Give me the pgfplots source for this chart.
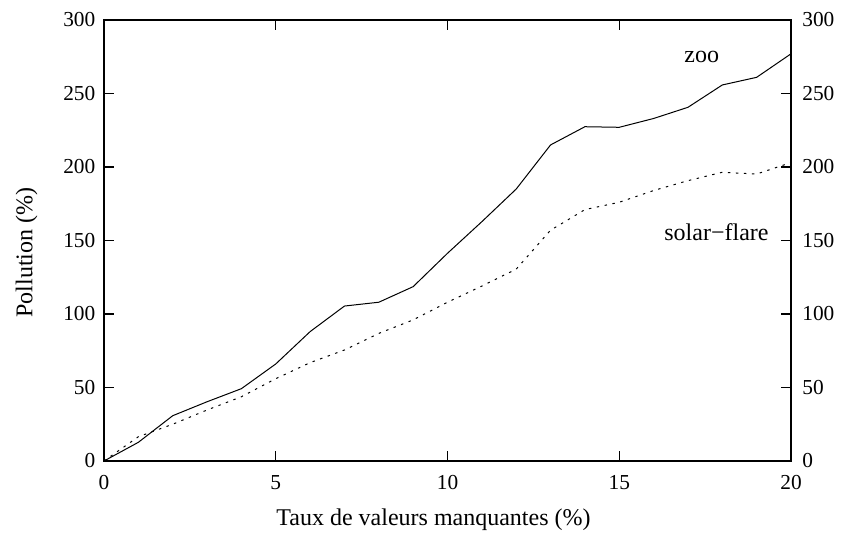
\documentclass[border=0pt]{standalone}
\usepackage{fontspec}
\setmainfont{Liberation Serif}
\usepackage{pgfplots}
\pgfplotsset{compat=1.18}
\begin{document}
\begin{tikzpicture}
\pgfplotsset{
  common/.style={
    scale only axis, width=515.25pt, height=330.75pt,
    xmin=0, xmax=20, ymin=0, ymax=300,
    xtick={0,5,10,15,20}, ytick={0,50,100,150,200,250,300},
    tick align=inside, major tick length=7.5pt,
    /pgf/number format/assume math mode=true,
    tick style={black, line width=0.8pt},
    axis line style={line width=1pt},
    ticklabel style={font=\fontsize{16}{19}\selectfont},
  }
}
\begin{axis}[common,
  xticklabel style={yshift=-7pt},
  yticklabel style={xshift=-3pt},
  every axis y label/.style={at={(axis description cs:0,0.5)}, xshift=-58pt, yshift=-9pt, rotate=90, anchor=center},
  every axis x label/.style={at={(axis description cs:0.5,0)}, anchor=center, xshift=-10.5pt, yshift=-44pt},
  xlabel={Taux de valeurs manquantes (\%)},
  ylabel={Pollution (\%)},
  label style={font=\fontsize{18}{21}\selectfont},
]
\addplot[black, line width=0.75pt] coordinates {
(0,0) (1,12.7) (2,30.8) (3,40.3) (4,49.2) (5,66) (6,88) (7,105.4) (8,108) (9,118.6)
(10,141.3) (11,162.8) (12,185) (13,215) (14,227.4) (15,227) (16,233) (17,240.6)
(18,255.8) (19,261) (20,277)};
\addplot[black, line width=0.75pt, dash pattern=on 1.8pt off 4.2pt] coordinates {
(0,0) (1,16.5) (2,25) (3,34.7) (4,43.7) (5,56) (6,66.9) (7,75.5) (8,86.8) (9,96)
(10,108) (11,119) (12,130.5) (13,157) (14,171) (15,176) (16,184) (17,190.7)
(18,196.4) (19,195.2) (20,203)};
\node[font=\fontsize{18}{21}\selectfont] at (axis cs:17.4,275) {zoo};
\node[font=\fontsize{18}{21}\selectfont] at (axis cs:17.83,156) {solar−flare};
\coordinate (bl) at (rel axis cs:0,0);
\coordinate (tr) at (rel axis cs:1,1);
\end{axis}
\begin{axis}[common,
  hide x axis,
  axis y line*=right,
  yticklabel pos=right,
  ytick pos=right,
  yticklabel style={xshift=5pt, anchor=west},
]
\end{axis}
\path (bl) ++(-78pt,-57pt) coordinate (a);
\path (tr) ++(40.5pt,15pt) coordinate (b);
\pgfresetboundingbox
\path[use as bounding box] (a) rectangle (b);
\end{tikzpicture}
\end{document}
